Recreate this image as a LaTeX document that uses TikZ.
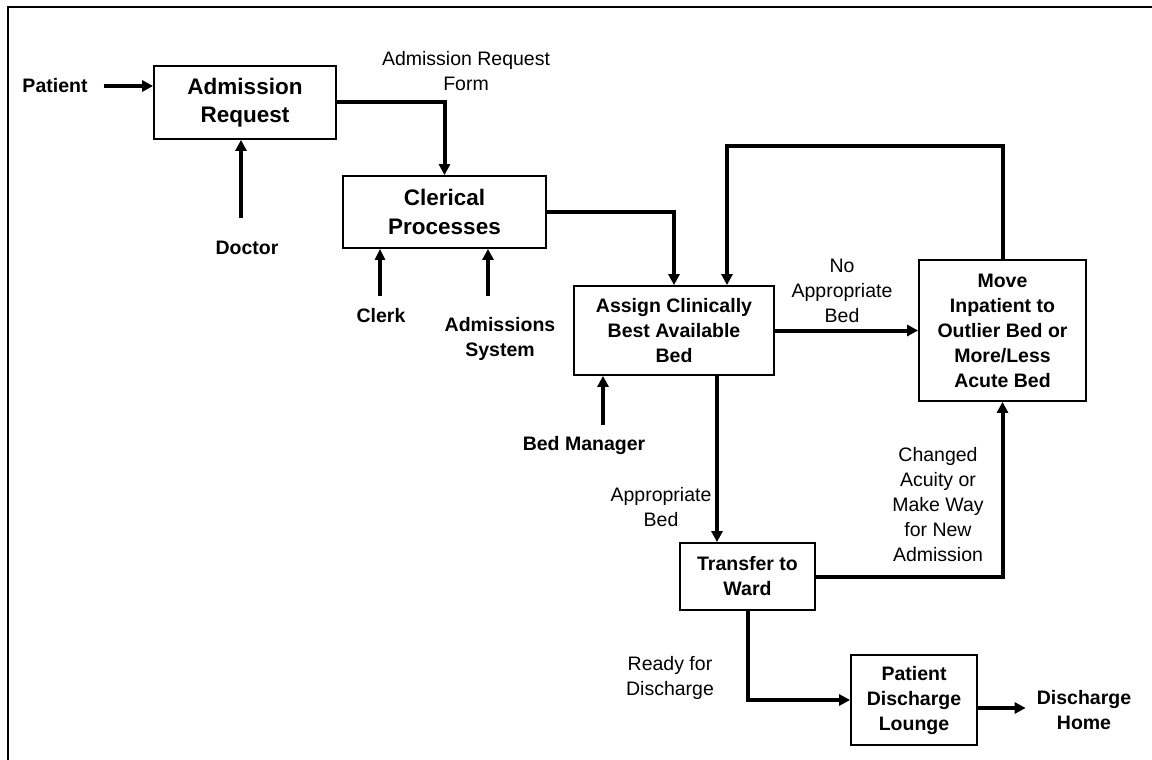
\documentclass[tikz,border=0pt]{standalone}
\usepackage{fontspec}
\setmainfont{Liberation Sans}
\usetikzlibrary{arrows.meta}
\begin{document}
\begin{tikzpicture}[x=1pt,y=-1pt,
  box/.style={draw,line width=1.8pt,align=center,inner sep=0pt,font=\fontsize{19.5}{25}\selectfont\bfseries},
  bigbox/.style={box,font=\fontsize{22.5}{28.5}\selectfont\bfseries},
  blab/.style={align=center,inner sep=0pt,font=\fontsize{19.5}{25}\selectfont\bfseries},
  rlab/.style={align=center,inner sep=0pt,font=\fontsize{19.5}{25}\selectfont},
  arr/.style={line width=4pt,-{Triangle[length=11pt,width=11pt]}},
  conn/.style={line width=4pt}]
\useasboundingbox (0,0) rectangle (1152,760);
\clip (0,0) rectangle (1152,760);
\draw[line width=2.2pt] (8,7) rectangle (1180,790);

% boxes
\node[bigbox,minimum width=182pt,minimum height=73pt] (AR) at (245,102.5) {Admission\\Request};
\node[bigbox,minimum width=203pt,minimum height=72pt] (CP) at (444.5,212) {Clerical\\Processes};
\node[box,minimum width=200pt,minimum height=89pt] (AS) at (674,330.5) {Assign Clinically\\Best Available\\Bed};
\node[box,minimum width=167pt,minimum height=141pt] (MV) at (1002.5,330.5) {Move\\Inpatient to\\Outlier Bed or\\More/Less\\Acute Bed};
\node[box,minimum width=135pt,minimum height=67pt] (TW) at (747.5,576.5) {Transfer to\\Ward};
\node[box,minimum width=126pt,minimum height=90pt] (PL) at (914,700) {Patient\\Discharge\\Lounge};

% labels
\node[blab] (pat) at (55,86) {Patient};
\node[blab] (doc) at (247,248) {Doctor};
\node[blab] (clerk) at (381,316) {Clerk};
\node[blab] (asys) at (500,338.5) {Admissions\\System};
\node[blab] (bedm) at (584,445) {Bed Manager};
\node[blab] (home) at (1084,710) {Discharge\\Home};
\node[rlab] (arf) at (466,71.5) {Admission Request\\Form};
\node[rlab] (nab) at (842,291) {No\\Appropriate\\Bed};
\node[rlab] (ab) at (661,507.5) {Appropriate\\Bed};
\node[rlab] (chg) at (938,505) {Changed\\Acuity or\\Make Way\\for New\\Admission};
\node[rlab] (rfd) at (670,678) {Ready for\\Discharge};

% free ends
\coordinate (docA) at (241,218);
\coordinate (clkA) at (380,296);
\coordinate (sysA) at (488,296);
\coordinate (bedA) at (603,425);
\coordinate (loop) at (727,146);

% connectors
\draw[line width=3.5pt,-{Triangle[length=11pt,width=11pt]},shorten <=16pt] (pat.east) -- (pat.east -| AR.west);
\draw[arr] (docA) -- (docA |- AR.south);
\draw[arr] (AR.east) -| (CP.north);
\draw[arr] (CP.east) -| (AS.north);
\draw[line width=3.2pt,-{Triangle[length=11pt,width=10pt]}] (clkA) -- (clkA |- CP.south);
\draw[arr] (sysA) -- (sysA |- CP.south);
\draw[arr] (bedA) -- (bedA |- AS.south);
\draw[arr] (AS.east) -- (MV.west);
\draw[arr] (MV.north) |- (loop) -- (loop |- AS.north);
\draw[arr] ([xshift=43pt]AS.south) -- ([xshift=43pt]AS.south |- TW.north);
\draw[arr] (TW.east) -| (MV.south);
\draw[arr] (TW.south) |- (PL.west);
\draw[arr,shorten >=11pt] ([yshift=-8pt]PL.east) -- ([yshift=-8pt]PL.east -| home.west);
\end{tikzpicture}
\end{document}
